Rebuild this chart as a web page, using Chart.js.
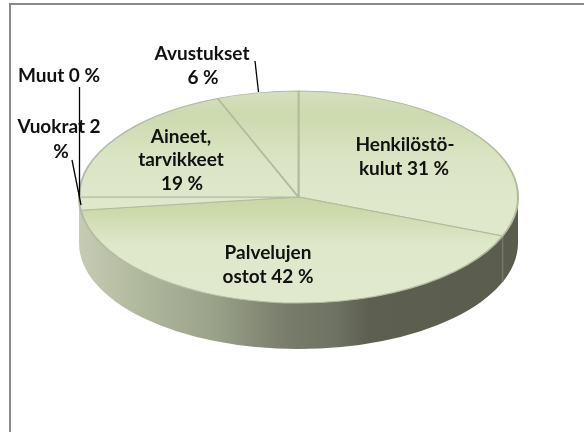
<!DOCTYPE html>
<html><head><meta charset="utf-8">
<style>html,body{margin:0;padding:0;background:#fff}canvas{display:block}</style>
<script src="https://cdn.jsdelivr.net/npm/chart.js@4"></script></head>
<body><canvas id="c" width="584" height="432"></canvas>
<script>
const categories = ['Henkilöstökulut','Palvelujen ostot','Vuokrat','Muut','Aineet, tarvikkeet','Avustukset'];
const values = [31,42,2,0,19,6];
const labelLines = [
  ['Henkilöstö-','kulut 31 %'],
  ['Palvelujen','ostot 42 %'],
  ['Vuokrat 2','%'],
  ['Muut 0 %'],
  ['Aineet,','tarvikkeet','19 %'],
  ['Avustukset','6 %']
];
const labelPlaces = [
  [{x:405,y:151},{x:404,y:175}],
  [{x:268,y:259},{x:268,y:283}],
  [{x:59,y:133},{x:61,y:158}],
  [{x:59,y:82}],
  [{x:181,y:143},{x:181,y:166},{x:182,y:190}],
  [{x:202,y:60},{x:203,y:84}]
];
const leaders = [
  {from:[255,61],to:[258.5,92]},
  {from:[79.5,87],to:[79.5,196]},
  {from:[72,160],to:[81,205]}
];
const RADIUS = 219.5, SQUASH = 106/219.5, DEPTH = 46;
const TOP_STOPS = [[0,'#d6e0be'],[.2,'#cdd9ae'],[.6,'#dbe5c5'],[1,'#e0e8cc']];
const FRONT_STOPS = [[0,'#c9d7a6'],[.12,'#ccd9aa'],[.45,'#dfe8cb'],[1,'#e0e9cd']];
const WALL_STOPS = [[0,'#c6ccb3'],[.15,'#aeb69c'],[.3,'#9ca38b'],[.48,'#777b69'],[.58,'#6f7363'],[.66,'#5d6051'],[1,'#5a5d4e']];

function slicePaint(ctx){
  const chart = ctx.chart, a = chart.chartArea;
  if(!a) return '#dbe5c5';
  const cy = (a.top+a.bottom)/2;
  const front = ctx.dataIndex === 1;
  const g = chart.ctx.createLinearGradient(0, front ? cy : cy-RADIUS, 0, front ? cy+RADIUS : cy+RADIUS*0.1);
  (front ? FRONT_STOPS : TOP_STOPS).forEach(s => g.addColorStop(s[0], s[1]));
  return g;
}

const tilt = {
  id:'tilt',
  beforeDatasetsDraw(chart){
    const c = chart.ctx, arcs = chart.getDatasetMeta(0).data, first = arcs[0];
    const cx = first.x, cy = first.y, r = first.outerRadius, ry = r*SQUASH;
    // frame of the chart object, cut off by the picture on the right and bottom
    c.save();
    c.strokeStyle = '#8a8a8a'; c.lineWidth = 2;
    c.beginPath(); c.moveTo(10,432); c.lineTo(10,4); c.lineTo(584,4); c.stroke();
    // outer wall
    const g = c.createLinearGradient(cx-r,0,cx+r,0);
    WALL_STOPS.forEach(s => g.addColorStop(s[0], s[1]));
    c.fillStyle = g;
    c.beginPath();
    c.moveTo(cx+r,cy);
    c.ellipse(cx,cy+DEPTH,r,ry,0,0,Math.PI);
    c.lineTo(cx-r,cy);
    c.ellipse(cx,cy,r,ry,0,Math.PI,0,true);
    c.closePath(); c.fill();
    // seam on the wall where the first slice ends
    const sx = cx+r*Math.cos(first.endAngle), sy = cy+ry*Math.sin(first.endAngle);
    c.strokeStyle = '#75786a'; c.lineWidth = 1.5;
    c.beginPath(); c.moveTo(sx,sy); c.lineTo(sx,sy+DEPTH); c.stroke();
    c.restore();
    c.save();
    c.translate(0,cy); c.scale(1,SQUASH); c.translate(0,-cy);
  },
  afterDatasetsDraw(chart){
    const c = chart.ctx;
    c.restore();
    c.save();
    c.strokeStyle = '#000'; c.lineWidth = 1.3;
    leaders.forEach(l => { c.beginPath(); c.moveTo(l.from[0],l.from[1]); c.lineTo(l.to[0],l.to[1]); c.stroke(); });
    c.font = 'bold 19px Lato, "Open Sans", sans-serif';
    c.fillStyle = '#111'; c.textAlign = 'center'; c.textBaseline = 'alphabetic';
    labelLines.forEach((lines,i) => lines.forEach((t,j) => c.fillText(t,labelPlaces[i][j].x,labelPlaces[i][j].y)));
    c.restore();
  }
};

new Chart(document.getElementById('c'),{
  type:'pie',
  data:{labels:categories,datasets:[{data:values,clip:false,backgroundColor:slicePaint,borderColor:'#b3bb9f',borderWidth:2}]},
  options:{
    responsive:false,animation:false,radius:RADIUS,
    layout:{padding:{left:13,right:0,top:0,bottom:38}},
    plugins:{legend:{display:false},title:{display:false},tooltip:{enabled:false}}
  },
  plugins:[tilt]
});
</script></body></html>
